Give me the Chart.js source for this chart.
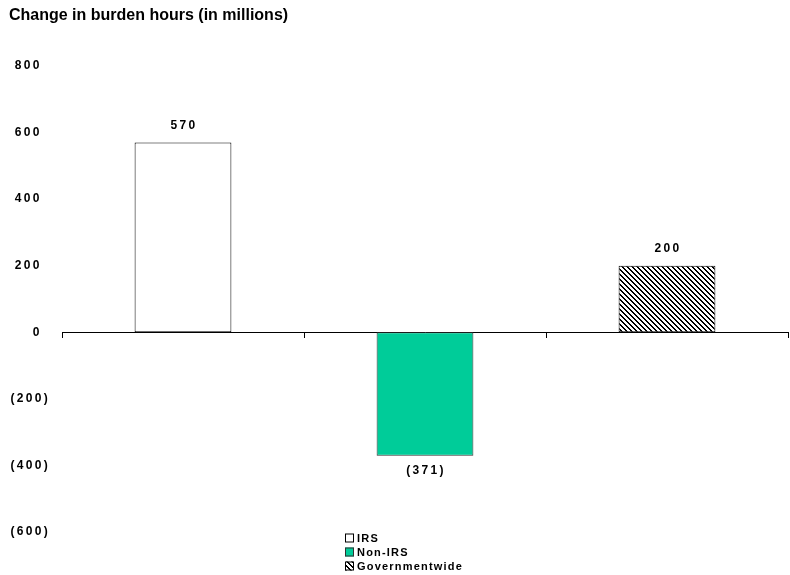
<!DOCTYPE html>
<html>
<head>
<meta charset="utf-8">
<script src="https://cdn.jsdelivr.net/npm/chart.js@4.4.1/dist/chart.umd.min.js"></script>
<style>
  html, body { margin: 0; padding: 0; background: #ffffff; }
  #wrap { width: 790px; height: 575px; position: relative; }
</style>
</head>
<body>
<div id="wrap"><canvas id="c" width="790" height="575"></canvas></div>
<script>
// ---- data ----
const categories = ['IRS', 'Non-IRS', 'Governmentwide'];
const burdenChange = [570, -371, 200];
const yTickValues = [-600, -400, -200, 0, 200, 400, 600, 800];
const titleText = 'Change in burden hours (in millions)';

const FONT = "'Liberation Sans', Arial, Helvetica, sans-serif";

function fmt(v) {
  return v < 0 ? '(' + Math.abs(v) + ')' : String(v) + '\u2002';
}

// hatch pattern for Governmentwide
function makeHatch() {
  const p = 5;
  const cv = document.createElement('canvas');
  cv.width = p; cv.height = p;
  const cx = cv.getContext('2d');
  const img = cx.createImageData(p, p);
  for (let y = 0; y < p; y++) {
    for (let x = 0; x < p; x++) {
      const k = (((x - y) % p) + p) % p;
      const i = (y * p + x) * 4;
      const dark = k < 2;
      img.data[i] = img.data[i + 1] = img.data[i + 2] = dark ? 0 : 255;
      img.data[i + 3] = 255;
    }
  }
  cx.putImageData(img, 0, 0);
  return document.getElementById('c').getContext('2d').createPattern(cv, 'repeat');
}
const hatch = makeHatch();
const fills = ['#ffffff', '#00cc99', hatch];
const borders = ['#000000', '#333333', '#000000'];

const valueLabels = {
  id: 'valueLabels',
  afterDatasetsDraw(chart) {
    const ctx = chart.ctx;
    const meta = chart.getDatasetMeta(0);
    ctx.save();
    ctx.letterSpacing = '2.3px';
    ctx.font = 'bold 12px ' + FONT;
    ctx.fillStyle = '#000';
    ctx.textAlign = 'center';
    ctx.textBaseline = 'middle';
    meta.data.forEach((bar, i) => {
      const v = burdenChange[i];
      const y = v >= 0 ? bar.y - 17 : bar.y + 15;
      ctx.fillText(fmt(v).trim(), bar.x + 1, y);
    });
    ctx.restore();
    // letter spacing for the y tick labels drawn after datasets (z = 1)
    ctx.letterSpacing = '2.3px';
  },
  afterDraw(chart) {
    const ctx = chart.ctx;
    ctx.letterSpacing = '0px';
    // stacked legend at the bottom
    ctx.save();
    ctx.letterSpacing = '1.2px';
    ctx.font = 'bold 11px ' + FONT;
    ctx.textAlign = 'left';
    ctx.textBaseline = 'middle';
    const bx = 345, box = 9, rowH = 14, y0 = 538;
    categories.forEach((name, i) => {
      const cy = y0 + i * rowH;
      ctx.fillStyle = fills[i];
      ctx.fillRect(bx, cy - box / 2, box, box);
      ctx.strokeStyle = borders[i];
      ctx.lineWidth = 1;
      ctx.strokeRect(bx + 0.5, cy - box / 2 + 0.5, box - 1, box - 1);
      ctx.fillStyle = '#000';
      ctx.fillText(name, bx + box + 3, cy + 0.5);
    });
    ctx.restore();
  }
};

new Chart(document.getElementById('c'), {
  type: 'bar',
  data: {
    labels: categories,
    datasets: [{
      data: burdenChange,
      backgroundColor: fills,
      borderColor: borders,
      borderWidth: 1,
      borderSkipped: false,
      categoryPercentage: 1,
      barPercentage: 0.4
    }]
  },
  options: {
    responsive: false,
    animation: false,
    devicePixelRatio: 1,
    layout: { padding: { left: 9, right: 2, top: 0, bottom: 43 } },
    plugins: {
      legend: { display: false },
      tooltip: { enabled: false },
      title: {
        display: true,
        text: titleText,
        align: 'start',
        color: '#000',
        font: { family: FONT, size: 16, weight: 'bold', lineHeight: 1.2 },
        padding: { top: 5.5, bottom: 41.3 }
      }
    },
    scales: {
      x: {
        position: { y: 0 },
        grid: {
          display: true,
          drawOnChartArea: false,
          drawTicks: true,
          tickLength: 5,
          color: '#000',
          offset: true
        },
        border: { display: true, color: '#000', width: 1 },
        ticks: { display: false }
      },
      y: {
        min: yTickValues[0],
        max: yTickValues[yTickValues.length - 1],
        afterFit(scale) { scale.width = 53; },
        afterBuildTicks(scale) { scale.ticks = yTickValues.map(v => ({ value: v })); },
        grid: { display: false, drawTicks: false },
        border: { display: false },
        ticks: {
          z: 1,
          padding: 12,
          color: '#000',
          font: { family: FONT, size: 12, weight: 'bold' },
          callback: (v) => fmt(v)
        }
      }
    }
  },
  plugins: [valueLabels]
});
</script>
</body>
</html>
